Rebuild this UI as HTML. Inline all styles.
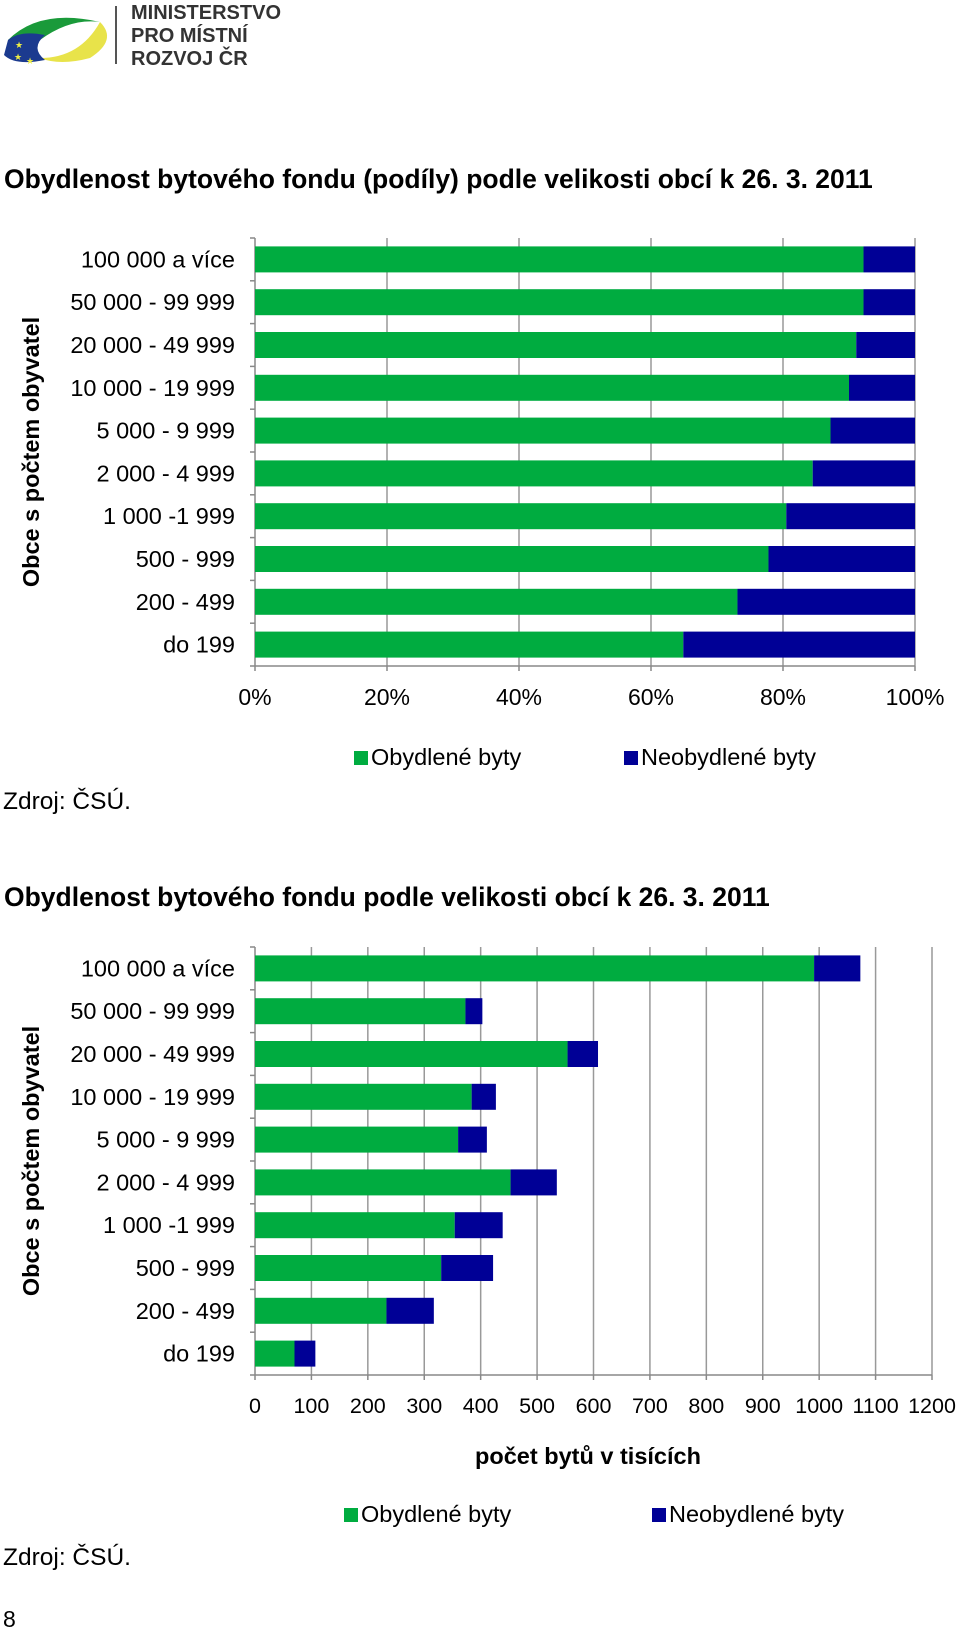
<!DOCTYPE html>
<html><head><meta charset="utf-8">
<style>
body{margin:0;background:#fff;width:960px;height:1633px;position:relative;overflow:hidden;font-family:"Liberation Sans",Arial,sans-serif;color:#000}
.abs{position:absolute}
.title{font-weight:bold;font-size:26.5px;left:4px;white-space:nowrap}
.src{font-size:24.5px;left:3px}
</style></head><body>
<div class="abs" style="left:0;top:0;width:290px;height:75px">
<svg width="120" height="75">
<path d="M8 40 Q40 8 100 22 Q70 18 40 40 Z" fill="#1a9a3a"/>
<path d="M100 22 Q118 40 90 58 Q60 66 40 58 Q80 58 100 22Z" fill="#e8e34a"/>
<path d="M8 40 Q20 30 45 35 Q30 48 45 60 Q15 66 4 55 Z" fill="#1b3a8f"/>
<text x="15" y="48" font-size="9" fill="#ee4">★</text><text x="14" y="60" font-size="9" fill="#ee4">★</text><text x="26" y="64" font-size="9" fill="#ee4">★</text>
</svg>
<div class="abs" style="left:115px;top:6px;width:2px;height:58px;background:#555"></div>
<div class="abs" style="left:131px;top:2px;font-weight:bold;font-size:20px;line-height:23px;color:#333">MINISTERSTVO<br>PRO MÍSTNÍ<br>ROZVOJ ČR</div>
</div>

<div class="abs title" style="top:164px">Obydlenost bytového fondu (podíly) podle velikosti obcí k 26. 3. 2011</div>
<div class="abs title" style="top:882px">Obydlenost bytového fondu podle velikosti obcí k 26. 3. 2011</div>

<svg id="c1" class="abs" style="left:0;top:0" width="960" height="1633"></svg>

<div class="abs src" style="top:788px">Zdroj: ČSÚ.</div>
<div class="abs src" style="top:1544px">Zdroj: ČSÚ.</div>
<div class="abs" style="left:3px;top:1606px;font-size:23px">8</div>

<script>
const categories=["100 000 a více","50 000 - 99 999","20 000 - 49 999","10 000 - 19 999","5 000 - 9 999","2 000 - 4 999","1 000 -1 999","500 - 999","200 - 499","do 199"];
const sharesOccupied=[92.2,92.2,91.1,90.0,87.2,84.5,80.5,77.8,73.1,64.9];
const countsOccupied=[991,373,554,384,360,453,354,330,233,70];
const countsVacant=[82,30,54,43,51,82,85,92,84,37];
const pctTicks=["0%","20%","40%","60%","80%","100%"];
const countTicks=["0","100","200","300","400","500","600","700","800","900","1000","1100","1200"];
const GREEN="#00ac40",BLUE="#000096";
const NS="http://www.w3.org/2000/svg";
const svg=document.getElementById('c1');
function mk(tag,attrs,txt){const e=document.createElementNS(NS,tag);for(const k in attrs)e.setAttribute(k,attrs[k]);if(txt!==undefined)e.textContent=txt;svg.appendChild(e);return e;}

function chart(cfg){
  const x0=255,x1=cfg.x1,top=cfg.top,band=42.8,bottom=top+band*categories.length;
  const xs=v=>x0+(v/cfg.max)*(x1-x0);
  const yc=i=>top+band*i+band/2;
  cfg.ticks.forEach((t,i)=>{
    const v=i*cfg.step,x=xs(v);
    if(i>0){const g=mk('line',{x1:x,x2:x,y1:top,y2:bottom,stroke:'#999','stroke-width':1.5});
    
    }
    mk('line',{x1:x,x2:x,y1:bottom,y2:bottom+5,stroke:'#888','stroke-width':1.5});
    const tl=mk('text',{x:x,y:cfg.tickY,'font-size':cfg.tickFs,'text-anchor':'middle','font-family':'Liberation Sans'},t);
    
    
  });
  for(let i=0;i<=categories.length;i++){const y=top+band*i;mk('line',{x1:x0-5,x2:x0,y1:y,y2:y,stroke:'#888','stroke-width':1.5});}
  mk('line',{x1:x0,x2:x0,y1:top,y2:bottom,stroke:'#888','stroke-width':1.5});
  mk('line',{x1:x0,x2:x1,y1:bottom,y2:bottom,stroke:'#888','stroke-width':1.5});
  categories.forEach((c,i)=>{
    const a=cfg.a[i],b=cfg.b[i];
    const r1=mk('rect',{x:xs(0),y:yc(i)-13,width:xs(a)-xs(0),height:26,fill:GREEN});
    
    
    const r2=mk('rect',{x:xs(a),y:yc(i)-13,width:xs(a+b)-xs(a),height:26,fill:BLUE});
    
    
    const l=mk('text',{x:235,y:yc(i)+8,'font-size':23.5,'text-anchor':'end','font-family':'Liberation Sans'},c);
    
    
  });
  const yt=mk('text',{x:0,y:0,'font-size':23.5,'font-weight':'bold','text-anchor':'middle','font-family':'Liberation Sans',transform:`translate(39,${(top+bottom)/2}) rotate(-90)`},'Obce s počtem obyvatel');
  
  
  [[cfg.lg[0],GREEN,'Obydlené byty'],[cfg.lg[1],BLUE,'Neobydlené byty']].forEach(([x,col,t])=>{
    const s=mk('rect',{x:x,y:cfg.legY-14,width:14,height:14,fill:col});
    
    
    const lt=mk('text',{x:x+17,y:cfg.legY,'font-size':23.5,'font-family':'Liberation Sans'},t);
    
    
  });
}
chart({top:238,x1:915,max:100,step:20,ticks:pctTicks,a:sharesOccupied,b:sharesOccupied.map(v=>100-v),tickY:705,tickFs:23,legY:765,lg:[354,624]});
chart({top:947,x1:932,max:1200,step:100,ticks:countTicks,a:countsOccupied,b:countsVacant,tickY:1413,tickFs:21.5,legY:1522,lg:[344,652]});
const at=mk('text',{x:588,y:1464,'font-size':23.5,'font-weight':'bold','text-anchor':'middle','font-family':'Liberation Sans'},'počet bytů v tisících');


</script>
</body></html>
